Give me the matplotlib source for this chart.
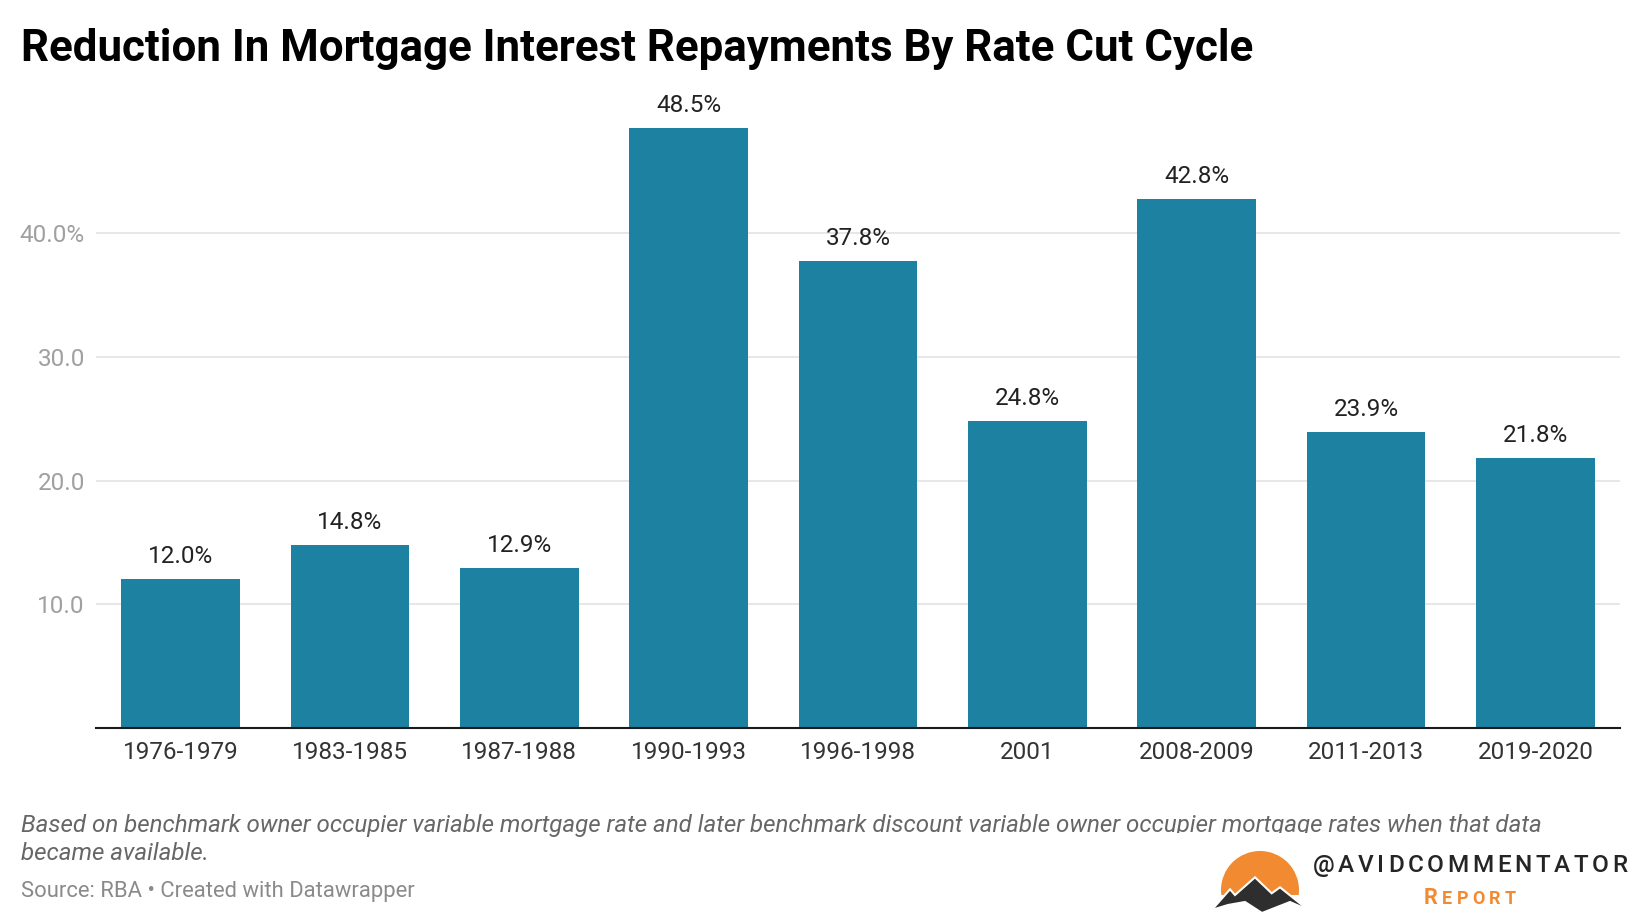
import matplotlib
matplotlib.use("Agg")
import matplotlib.pyplot as plt
from matplotlib import font_manager as fm
from matplotlib.patches import Circle, Rectangle, Polygon
from matplotlib.transforms import Affine2D
import numpy as np

categories = ["1976-1979", "1983-1985", "1987-1988", "1990-1993", "1996-1998",
              "2001", "2008-2009", "2011-2013", "2019-2020"]
values = [12.0, 14.8, 12.9, 48.5, 37.8, 24.8, 42.8, 23.9, 21.8]
ytick_vals = [10, 20, 30, 40]
ytick_labels = ["10.0", "20.0", "30.0", "40.0%"]

title = "Reduction In Mortgage Interest Repayments By Rate Cut Cycle"
note1 = ("Based on benchmark owner occupier variable mortgage rate and later benchmark "
         "discount variable owner occupier mortgage rates when that data")
note2 = "became available."
source = "Source: RBA \u2022 Created with Datawrapper"
handle = "@AVIDCOMMENTATOR"
report = "REPORT"


def font_file(fname, fallback_style="normal", fallback_weight=400):
    for f in fm.fontManager.ttflist:
        if f.fname.endswith("/" + fname):
            return fm.FontProperties(fname=f.fname)
    return fm.FontProperties(family="Roboto", style=fallback_style, weight=fallback_weight)


REG = font_file("Roboto-Regular.ttf")
ITA = font_file("Roboto-Italic.ttf", "italic")
BOLD = font_file("Roboto-Bold.ttf", "normal", 700)
MED = font_file("Roboto-Medium.ttf", "normal", 500)


def fp(base, size):
    p = base.copy()
    p.set_size(size)
    return p


W, H = 1640, 924
plt.rcParams['font.family'] = ['Roboto', 'DejaVu Sans']
fig = plt.figure(figsize=(W / 100, H / 100), dpi=100)


def fx(x):
    return x / W


def fy(y):
    return 1 - y / H


LBL = 17.5
BAR = "#1d81a2"
ax = fig.add_axes([fx(96), fy(727.7), (1620 - 96) / W, 642.7 / H])
x = np.arange(len(categories))
ax.bar(x, values, width=0.7, color=BAR, zorder=2)
ax.set_xlim(-0.5, len(categories) - 0.5)
ax.set_ylim(0, 52)
for s in ["top", "right", "left"]:
    ax.spines[s].set_visible(False)
ax.spines["bottom"].set_color("#1a1a1a")
ax.spines["bottom"].set_linewidth(1.5)
ax.spines["bottom"].set_zorder(3)
ax.set_xticks(x)
ax.set_xticklabels(categories, color="#333333")
for t in ax.get_xticklabels():
    t.set_fontproperties(fp(REG, LBL))
ax.tick_params(axis="x", length=0, pad=9.5)
ax.set_yticks(ytick_vals)
ax.set_yticklabels(ytick_labels, color="#a0a0a0")
for t in ax.get_yticklabels():
    t.set_fontproperties(fp(REG, LBL))
ax.tick_params(axis="y", length=0, pad=8)
ax.yaxis.grid(True, color="#e3e3e3", linewidth=1.2, zorder=0)
ax.set_axisbelow(True)

for xi, v in zip(x, values):
    ax.annotate(f"{v:.1f}%", (xi, v), xytext=(0, 11.5), textcoords="offset points",
                ha="center", va="baseline", fontproperties=fp(REG, LBL), color="#222222")

fig.text(fx(21), fy(60.7), title, fontproperties=fp(BOLD, 31.6), color="#000000",
         ha="left", va="baseline")
fig.text(fx(21), fy(832), note1, fontproperties=fp(ITA, 17.4), color="#666666",
         ha="left", va="baseline")
fig.text(fx(21), fy(860), note2, fontproperties=fp(ITA, 17.4), color="#666666",
         ha="left", va="baseline")
fig.text(fx(21), fy(897), source, fontproperties=fp(REG, 15.8), color="#8a8a8a",
         ha="left", va="baseline")

# ---- logo ----
pix = Affine2D().scale(1, -1).translate(0, H)
fig.patches.append(Rectangle((1160, 833), 480, 91, transform=pix, facecolor="white",
                             edgecolor="none", zorder=5))
ORANGE = "#f28a32"
circ = Circle((1260, 890), 39, transform=pix, facecolor=ORANGE,
              edgecolor="none", zorder=6)
clipr = Rectangle((1200, 840), 120, 55, transform=pix, visible=False)
fig.patches.append(circ)
circ.set_clip_path(clipr)
mountain = [(1211.7, 910), (1230, 889.3), (1235, 895), (1255, 877.3),
            (1271.7, 893.3), (1280, 887.3), (1308.3, 910), (1290, 902),
            (1262, 913), (1245, 902), (1228, 905)]
fig.patches.append(Polygon(mountain, closed=True, transform=pix,
                           facecolor="#2e2e2e", edgecolor="white",
                           linewidth=1.5, zorder=7))

renderer = fig.canvas.get_renderer()


def spaced(text_str, x0, x1, ybase, props_list, color):
    arts = []
    widths = []
    for ch, pr in zip(text_str, props_list):
        t = fig.text(0, 0, ch, fontproperties=pr, color=color, ha="left",
                     va="baseline", zorder=8)
        widths.append(t.get_window_extent(renderer).width)
        arts.append(t)
    gap = ((x1 - x0) - sum(widths)) / (len(text_str) - 1)
    cx = x0
    for t, w in zip(arts, widths):
        t.set_position((fx(cx), fy(ybase)))
        cx += w + gap


spaced(handle, 1313, 1627, 872, [fp(MED, 17.5)] * len(handle), "#252525")
spaced(report, 1424, 1516, 904, [fp(BOLD, 15.5)] + [fp(BOLD, 13)] * 5, ORANGE)

fig.savefig("out.png", dpi=100, facecolor="white")
